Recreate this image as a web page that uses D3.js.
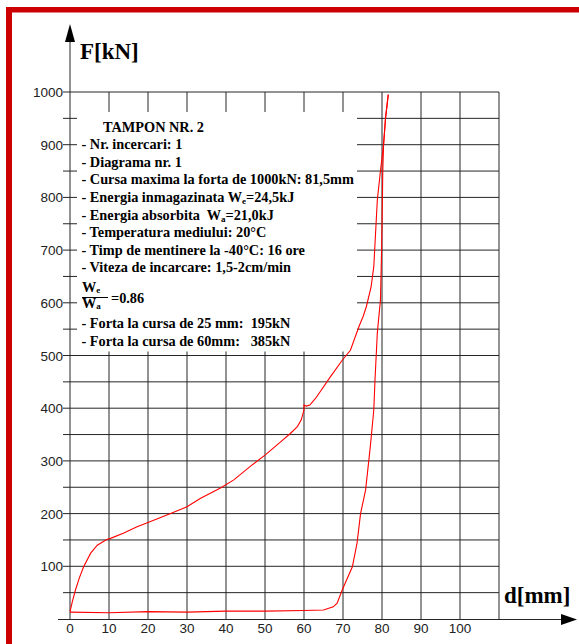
<!DOCTYPE html>
<html>
<head>
<meta charset="utf-8">
<script src="https://cdn.jsdelivr.net/npm/d3@7"></script>
<style>
  html, body { margin: 0; padding: 0; background: #fff; }
  svg { display: block; }
  .info text { font-family: "Liberation Serif", "Times New Roman", serif; font-weight: bold; font-size: 14.3px; fill: #000; white-space: pre; }
  .tick-label { font-family: "Liberation Sans", Arial, sans-serif; font-size: 13.5px; fill: #222; }
  .axis-title { font-family: "Liberation Serif", "Times New Roman", serif; font-weight: bold; font-size: 23px; fill: #000; }
</style>
</head>
<body>
<div id="chart"></div>
<script>
// data: d [mm], F [kN]
const loading = [
  [0, 14], [0.6, 33], [1.4, 55], [2.4, 78], [3.5, 99], [5.3, 125], [7, 140], [9.4, 151],
  [10.4, 153], [13.8, 163], [17.2, 175], [20, 183], [25.8, 200], [30, 213], [33.5, 229],
  [38.7, 249], [42, 264], [46.3, 290], [50, 311], [54, 336], [56.5, 352], [58.3, 365],
  [59.3, 378], [60, 397], [60, 406], [60.6, 404], [61.5, 406], [63, 419], [66.8, 460],
  [69.8, 491], [71.9, 510], [74.1, 555], [75.2, 575], [76, 593], [77.2, 630], [77.9, 669],
  [78.8, 795], [79.6, 850], [80.4, 900], [80.9, 950], [81.6, 995]
];
const unloading = [
  [81.6, 995], [80.9, 950], [80.4, 900], [80.2, 850], [80.1, 795], [79.9, 700], [79.6, 605],
  [78.8, 543], [78.2, 453], [77.9, 397], [77, 327], [75.8, 245], [74.5, 200], [73.6, 144],
  [72.4, 99], [69.8, 55], [68.5, 30], [67.5, 23], [65, 17], [60, 16], [50, 15], [40, 15],
  [30, 13], [20, 14], [10, 12], [0, 13]
];

const xTicks = [0, 10, 20, 30, 40, 50, 60, 70, 80, 90, 100];
const yTicks = [100, 200, 300, 400, 500, 600, 700, 800, 900, 1000];
const gridX = d3.range(10, 111, 10);
const gridY = d3.range(50, 1001, 50);

const infoLines = [
  "- Nr. incercari: 1",
  "- Diagrama nr. 1",
  "- Cursa maxima la forta de 1000kN: 81,5mm",
  ["- Energia inmagazinata W", "e", "=24,5kJ"],
  ["- Energia absorbita  W", "a", "=21,0kJ"],
  "- Temperatura mediului: 20°C",
  "- Timp de mentinere la -40°C: 16 ore",
  "- Viteza de incarcare: 1,5-2cm/min"
];
const forceLines = [
  "- Forta la cursa de 25 mm:  195kN",
  "- Forta la cursa de 60mm:   385kN"
];

const width = 579, height = 644;

const x = d3.scaleLinear().domain([0, 110]).range([70, 499]);
const y = d3.scaleLinear().domain([0, 1000]).range([619, 92]);

const svg = d3.select('#chart').append('svg')
    .attr('width', width)
    .attr('height', height);

const gridColor = "#262626";

// grid
let grid = svg.append('g').attr('stroke', gridColor).attr('stroke-width', 1);

grid.selectAll('.gx')
    .data(gridX)
    .join('line')
    .attr('x1', d => x(d)).attr('x2', d => x(d))
    .attr('y1', y(0)).attr('y2', y(1000));

grid.selectAll('.gy')
    .data(gridY)
    .join('line')
    .attr('x1', x(0) - 7).attr('x2', x(110))
    .attr('y1', d => y(d)).attr('y2', d => y(d));

// white panel for the test notes, grid stays as ticks round it
const panel = {left: x(0) + 7, right: 357, top: y(1000) + 20, bottom: y(500) - 4};
svg.append('rect')
    .attr('x', panel.left).attr('y', panel.top)
    .attr('width', panel.right - panel.left)
    .attr('height', panel.bottom - panel.top)
    .attr('fill', '#fff');

// axes with arrows
svg.append('line')
    .attr('x1', x(0)).attr('x2', x(0))
    .attr('y1', y(0) + 1).attr('y2', 40)
    .attr('stroke', gridColor);
svg.append('path')
    .attr('d', `M${x(0)},24 L${x(0) - 5},42 L${x(0) + 5},42 Z`)
    .attr('fill', '#000');

svg.append('line')
    .attr('x1', 58).attr('x2', 563)
    .attr('y1', y(0) + 0.5).attr('y2', y(0) + 0.5)
    .attr('stroke', gridColor);
svg.append('path')
    .attr('d', `M577,${y(0) + 0.5} L561,${y(0) - 5} L561,${y(0) + 6} Z`)
    .attr('fill', '#000');

// tick labels
svg.selectAll('.xl')
    .data(xTicks)
    .join('text')
    .attr('class', 'tick-label')
    .attr('x', d => x(d))
    .attr('y', 633)
    .attr('text-anchor', 'middle')
    .text(d => d);

svg.selectAll('.yl')
    .data(yTicks)
    .join('text')
    .attr('class', 'tick-label')
    .attr('x', 63)
    .attr('y', d => y(d) + 5)
    .attr('text-anchor', 'end')
    .text(d => d);

svg.append('text').attr('class', 'axis-title').attr('x', 80).attr('y', 58.5).text('F[kN]');
svg.append('text').attr('class', 'axis-title').attr('x', 504).attr('y', 603).text('d[mm]');

// notes
let info = svg.append('g').attr('class', 'info');

info.append('text').attr('x', 103).attr('y', 131.5).text('TAMPON NR. 2');

infoLines.forEach(function(d, i) {
    let t = info.append('text').attr('x', 81.5).attr('y', 149.1 + i * 17.6);
    if (typeof d === 'string') {
        t.text(d);
    } else {
        t.append('tspan').text(d[0]);
        t.append('tspan').attr('dy', 2).style('font-size', '9px').text(d[1]);
        t.append('tspan').attr('dy', -2).text(d[2]);
    }
});

// We / Wa fraction
let frac = info.append('g');
let num = frac.append('text').attr('x', 82).attr('y', 291.5);
num.append('tspan').text('W');
num.append('tspan').attr('dy', 1).style('font-size', '9px').text('e');
let den = frac.append('text').attr('x', 82).attr('y', 307.5);
den.append('tspan').text('W');
den.append('tspan').attr('dy', 1).style('font-size', '9px').text('a');
frac.append('line')
    .attr('x1', 82).attr('x2', 108)
    .attr('y1', 297.5).attr('y2', 297.5)
    .attr('stroke', '#000').attr('stroke-width', 1);
frac.append('text').attr('x', 111).attr('y', 303).text('=0.86');

forceLines.forEach(function(d, i) {
    info.append('text').attr('x', 81.5).attr('y', 328.3 + i * 17.3).text(d);
});

// curves
const line = d3.line()
    .x(d => x(d[0]))
    .y(d => y(d[1]));

svg.selectAll('.curve')
    .data([loading, unloading])
    .join('path')
    .attr('class', 'curve')
    .attr('d', line)
    .attr('fill', 'none')
    .attr('stroke', '#ff0000')
    .attr('stroke-width', 1.1);

// red frame, top and left
svg.append('rect').attr('x', 6).attr('y', 7).attr('width', width - 6).attr('height', 5.5).attr('fill', '#cc0000');
svg.append('rect').attr('x', 6).attr('y', 7).attr('width', 6).attr('height', height - 7).attr('fill', '#cc0000');
</script>
</body>
</html>
